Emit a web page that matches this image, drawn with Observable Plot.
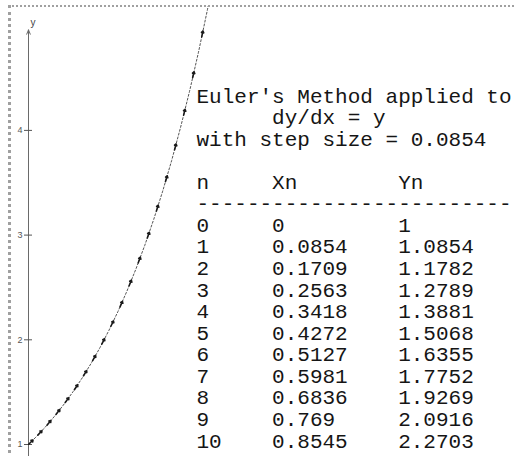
<!DOCTYPE html>
<html>
<head>
<meta charset="utf-8">
<script src="https://cdn.jsdelivr.net/npm/d3@7"></script>
<script src="https://cdn.jsdelivr.net/npm/@observablehq/plot@0.6"></script>
<style>
html, body { margin: 0; padding: 0; background: #fff; }
#wrap { position: relative; width: 516px; height: 456px; overflow: hidden; background: #fff; }
#wrap svg { position: absolute; left: 0; top: 0; }
#border { position: absolute; left: 8px; top: 5px; right: -10px; bottom: -10px;
  border-left: 3px dotted #a0a0a0; border-top: 2px dotted #a0a0a0; pointer-events: none; z-index: 2; }
svg text { white-space: pre; }
</style>
</head>
<body>
<div id="wrap"><div id="border"></div></div>
<script>
// ---- data ----
const stepSize = 0.0854;
const tableN = [0, 1, 2, 3, 4, 5, 6, 7, 8, 9, 10];
const tableX = [0, 0.0854, 0.1709, 0.2563, 0.3418, 0.4272, 0.5127, 0.5981, 0.6836, 0.769, 0.8545];
const tableY = [1, 1.0854, 1.1782, 1.2789, 1.3881, 1.5068, 1.6355, 1.7752, 1.9269, 2.0916, 2.2703];
// Euler steps continued beyond the table (drawn on the graph)
const extraX = [0.9399, 1.0254, 1.1108, 1.1963, 1.2817, 1.3672, 1.4526, 1.5381, 1.6235, 1.7090, 1.7944];
const extraY = [2.4642, 2.6746, 2.9030, 3.1509, 3.4200, 3.7121, 4.0291, 4.3732, 4.7467, 5.1521, 5.5921];
const yTicks = [1, 2, 3, 4];
const yLabel = "y";
const titleLines = ["Euler's Method applied to", "      dy/dx = y", `with step size = ${stepSize}`];
const headers = ["n", "Xn", "Yn"];

// ---- derived ----
const curveX = [...tableX, ...extraX];
const curveY = [...tableY, ...extraY];
const pts = curveX.map((x, i) => ({x, y: curveY[i]}));
const PX = 104.7; // pixels per unit, both axes
const heads = d3.pairs(pts).map(([a, b]) => {
  const mx = (a.x + b.x) / 2, my = (a.y + b.y) / 2;
  const dx = b.x - a.x, dy = b.y - a.y, L = Math.hypot(dx, dy);
  const back = 6 / PX;
  return {x1: mx - dx / L * back, y1: my - dy / L * back, x2: mx, y2: my};
});

const rows = tableN.map((n, i) => String(n).padEnd(6) + String(tableX[i]).padEnd(10) + String(tableY[i]));
const block = [
  ...titleLines,
  "",
  headers[0].padEnd(6) + headers[1].padEnd(10) + headers[2],
  "-".repeat(25),
  ...rows
].join("\n");

const W = 516, H = 456, mL = 28, mT = 6;
const yMin = 1 - 12 / PX, yMax = 1 + (444 - mT) / PX;
const axisTop = 4.96;

const chart = Plot.plot({
  width: W, height: H,
  marginLeft: mL, marginTop: mT, marginRight: 0, marginBottom: 0,
  x: {domain: [0, (W - mL) / PX], axis: null},
  y: {domain: [yMin, yMax], axis: null},
  style: {background: "transparent", fontFamily: "'Liberation Sans', sans-serif"},
  marks: [
    // y axis line with arrow
    Plot.arrow([{x: 0, y1: yMin - 0.5, y2: axisTop}], {
      x1: "x", x2: "x", y1: "y1", y2: "y2",
      stroke: "#6a6a6a", strokeWidth: 1, headLength: 7, headAngle: 45
    }),
    Plot.axisY(yTicks, {
      anchor: "left", tickSize: 8, tickPadding: 2, dx: 4,
      tickFormat: (d) => String(d),
      fontSize: 9, color: "#555", label: null
    }),
    Plot.text([yLabel], {frameAnchor: "top-left", dx: 2, dy: 12, fontSize: 10, fill: "#444"}),
    // Euler polygon, dashed
    Plot.line(pts, {x: "x", y: "y", stroke: "#555", strokeWidth: 1, strokeDasharray: "2,2", clip: true}),
    Plot.arrow(heads, {
      x1: "x1", y1: "y1", x2: "x2", y2: "y2",
      stroke: "#1a1a1a", strokeWidth: 1.6, headLength: 5, headAngle: 70, clip: true
    }),
    // table text
    Plot.text([block], {
      frameAnchor: "top-left", textAnchor: "start", lineAnchor: "top",
      lineHeight: 1.027, dx: 168, dy: 80.7,
      fontFamily: "'Courier New', 'Liberation Mono', monospace", fontSize: 21, fill: "#151515"
    })
  ]
});
document.getElementById("wrap").prepend(chart);
</script>
</body>
</html>
